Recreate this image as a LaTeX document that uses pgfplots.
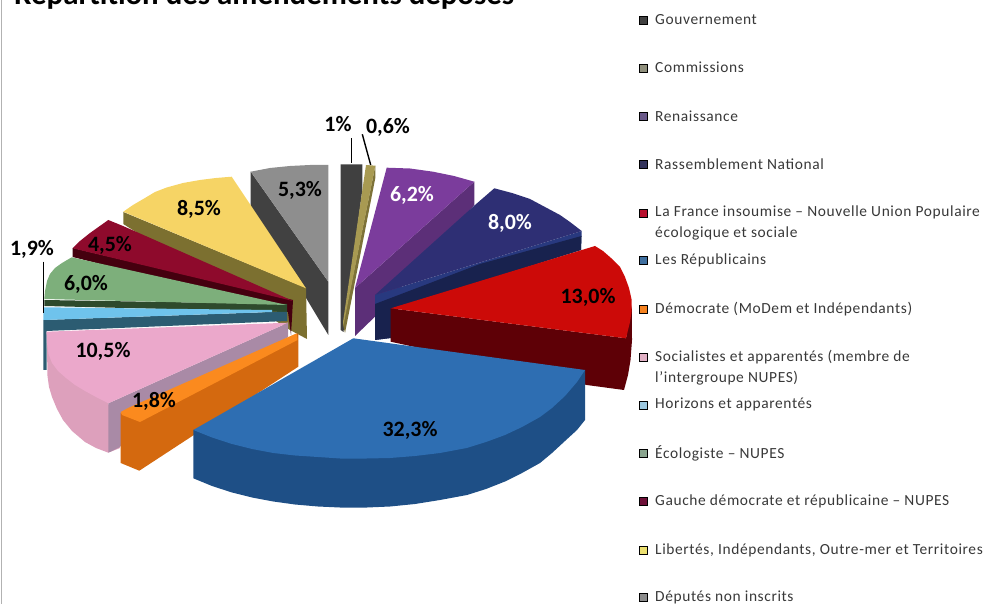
\documentclass[border=0pt]{standalone}
\usepackage{fontspec}
\setmainfont{Carlito}
\newfontfamily\legfont[LetterSpace=4]{Carlito}
\usepackage{pgfplots}
\pgfplotsset{compat=1.18}
\tikzset{lab/.style={font=\fontsize{22}{22}\selectfont\bfseries,text=black,inner sep=0pt},
 leg/.style={font=\fontsize{15.5}{15.5}\selectfont\legfont,text=black!78,anchor=west,inner sep=0pt}}
\pgfplotsset{mk/.style={only marks,mark=square*,mark size=4,mark options={draw=none,fill=#1}}}
\definecolor{cGov}{HTML}{404040}\definecolor{cGrayT}{HTML}{8E8E8E}\definecolor{cGrayS}{HTML}{414141}
\definecolor{cYelT}{HTML}{F6D465}\definecolor{cYelS}{HTML}{7C7030}
\definecolor{cWinT}{HTML}{8E0A2C}\definecolor{cWinS}{HTML}{45000F}
\definecolor{cGreT}{HTML}{7DAF7B}\definecolor{cGreS}{HTML}{2E4A2C}
\definecolor{cLbT}{HTML}{6FC3EC}\definecolor{cLbS}{HTML}{2C5C72}
\definecolor{cPinT}{HTML}{EBA8CB}\definecolor{cPinS}{HTML}{DDA0BC}\definecolor{cPinI}{HTML}{A98AA6}
\definecolor{cOrT}{HTML}{FB8A1E}\definecolor{cOrS}{HTML}{D4690F}
\definecolor{cComT}{HTML}{A89A52}\definecolor{cComS}{HTML}{7D7238}
\definecolor{cPurT}{HTML}{7B3C9C}\definecolor{cPurS}{HTML}{5C2F78}
\definecolor{cNavT}{HTML}{2E2F74}\definecolor{cNavS}{HTML}{28397F}\definecolor{cNavD}{HTML}{18224E}
\definecolor{cRedT}{HTML}{CC0A08}\definecolor{cRedS}{HTML}{5E0006}
\definecolor{cBluT}{HTML}{2E6EB2}\definecolor{cBluS}{HTML}{1E4F86}
\definecolor{m2}{HTML}{8F8F7C}\definecolor{m3}{HTML}{6B5A8A}\definecolor{m4}{HTML}{33335C}\definecolor{m5}{HTML}{B8102E}\definecolor{m6}{HTML}{3F6F9F}\definecolor{m7}{HTML}{F58220}\definecolor{m8}{HTML}{E0B0C4}\definecolor{m9}{HTML}{9CC8E0}\definecolor{m10}{HTML}{8AA58F}\definecolor{m11}{HTML}{6E1038}\definecolor{m12}{HTML}{ECE070}\definecolor{m13}{HTML}{8C8C8C}
\begin{document}
\begin{tikzpicture}[x=1bp,y=1bp]
\clip (0,0) rectangle (991,604);
\begin{axis}[at={(0,0)},anchor=south west,scale only axis,width=991bp,height=604bp,
 xmin=0,xmax=991,ymin=0,ymax=604,y dir=reverse,axis lines=none,clip=false]
% frame line
\addplot[color=black!30,line width=1.2pt] coordinates {(1.5,0)(1.5,604)};
% Deputes non inscrits
\addplot[fill=cGrayS,draw=none] coordinates {(250.7,171.7)(328.3,281.7)(328.3,335)(250.7,206)} --cycle;
\addplot[fill=cGrayT,draw=none] coordinates {(250.7,171.7)(270,168)(290,166)(310,165)(328.3,165)(328.3,281.7)} --cycle;
% Libertes
\addplot[fill=cYelS,draw=none] coordinates {(123.3,212)(306,288)(307,339)(290,330)(123.3,224)} --cycle;
\addplot[fill=cYelT,draw=none] coordinates {(123.3,211.7)(133,205)(145,198)(155,192)(166.7,187.5)(183,183)(200,180)(216,178)(231.7,176.7)(306,288.3)} --cycle;
% Gauche democrate
\addplot[fill=cWinS,draw=none] coordinates {(72.7,248)(72.7,257)(288,312)(291,335)(293,300)} --cycle;
\addplot[fill=cWinT,draw=none] coordinates {(72.7,248.3)(80,241)(90,233)(108.3,220)(123,226)(293,301)} --cycle;
% Ecologiste
\addplot[fill=cGreS,draw=none] coordinates {(44.3,300)(44.3,306)(287,312)(287,304)} --cycle;
\addplot[fill=cGreT,draw=none] coordinates {(44.3,299)(45,291)(47,281)(50,274)(55,268)(62,263)(71.7,257.3)(287,305)} --cycle;
% Horizons
\addplot[fill=cLbS,draw=none] coordinates {(43.3,320)(43.3,370)(46.5,370)(46.5,331)(287,321)(287,312)(272,312)} --cycle;
\addplot[fill=cLbT,draw=none] coordinates {(43.3,307.3)(272,310)(272,312)(43.3,320)} --cycle;
% Socialistes
\addplot[fill=cPinS,draw=none] coordinates {(46.7,332)(47.5,376)(49,387)(52,397)(57,409)(63,420)(72,431)(85,442)(96,448)(108.3,452.7)(120,448)(108.3,403.3)} --cycle;
\addplot[fill=cPinI,draw=none] coordinates {(108.3,403.3)(288,322.7)(288,337)(118,448)(108.3,452.7)} --cycle;
\addplot[fill=cPinT,draw=none] coordinates {(46.7,331.7)(288,322.7)(108.3,403.3)(96,397)(85,391)(75,385)(66,378)(58,371)(52,363)(48.5,354)(47,343)} --cycle;
% Democrate
\addplot[fill=cOrS,draw=none] coordinates {(120.7,413)(120.7,463)(139.3,470.7)(298.3,366.7)(298.3,333.3)} --cycle;
\addplot[fill=cOrT,draw=none] coordinates {(120.7,412)(128,408)(296.7,333.3)(297.5,340)(140,422)(122,415)} --cycle;
% Gouvernement
\addplot[fill=cGov,draw=none] coordinates {(340.7,164.3)(362.3,164.3)(362.3,190)(343.5,332)(340.7,330)} --cycle;
% Commissions
\addplot[fill=cComS,draw=none] coordinates {(375.3,165.7)(375.3,178)(345,333)(343,325)} --cycle;
\addplot[fill=cComT,draw=none] coordinates {(366,165)(375.3,165.7)(343.5,325)(343,322)} --cycle;
% Renaissance
\addplot[fill=cPurS,draw=none] coordinates {(474.3,181.7)(474.3,205)(375,316.7)(355,336)(355,288)} --cycle;
\addplot[fill=cPurT,draw=none] coordinates {(386.7,167.7)(410,168.5)(433,171.7)(454,176)(474.3,181.7)(355,288)} --cycle;
% Rassemblement National
\addplot[fill=cNavS,draw=none] coordinates {(375,295)(375,340)(391,338)(391,310)(581,250)(581.7,231)} --cycle;
\addplot[fill=cNavD,draw=none] coordinates {(375,304)(375,340)(391,338)(391,310)(581,250)(581.5,236)(480,264)} --cycle;
\addplot[fill=cNavT,draw=none] coordinates {(494.3,188.3)(475,205)(375,295)(581.7,231)(570,222)(560,215)(545,207)(530,199)(512,193)} --cycle;
% LFI-NUPES
\addplot[fill=cRedS,draw=none] coordinates {(390.7,308.3)(390.7,341.7)(586.7,385)(624,390)(628,375)(630.5,360)(632,340)(631.7,305)(626,338.3)} --cycle;
\addplot[fill=cRedT,draw=none] coordinates {(390.7,308.3)(595,246)(603,251)(611,258)(620,267)(625,277)(629,288)(631.7,300)(631.5,312)(630,322)(626,338.3)} --cycle;
% Les Republicains
\addplot[fill=cBluS,draw=none] coordinates {(193.3,430)(193.3,478.3)(212,486)(232,492.5)(252,497.5)(273.3,501.5)(295,504.5)(318,506.5)(340,507.5)(367,507.5)(390,506.5)(415,504)(440,500)(467,495)(486,489)(505,481.5)(522,473)(540,463)(552,453)(565,441)(577,430)(585,420)(585,370)} --cycle;
\addplot[fill=cBluT,draw=none] coordinates {(353.3,338.3)(585,370)(577,382)(565,396)(552,408)(540,417)(522,427)(505,435)(486,442)(466.7,448)(440,453)(415,456)(390,458)(366.7,458.5)(340,458.5)(318,457)(295,455.5)(273.3,453)(252,449)(232,444)(212,437.5)(193.3,430)} --cycle;
% leader lines
\addplot[black,line width=1.4pt] coordinates {(351.7,138.3)(351.7,163.3)};
\addplot[black,line width=1.4pt] coordinates {(362.3,134.3)(370.7,165)};
\addplot[black,line width=1.6pt] coordinates {(43.3,261.7)(43.3,313)};
% legend markers
\addplot[mk=cGov] coordinates {(643,20)};
\addplot[mk=m2] coordinates {(643,68)};
\addplot[mk=m3] coordinates {(643,116)};
\addplot[mk=m4] coordinates {(643,164)};
\addplot[mk=m5] coordinates {(643,213)};
\addplot[mk=m6] coordinates {(643,260)};
\addplot[mk=m7] coordinates {(643,309)};
\addplot[mk=m8] coordinates {(643,357)};
\addplot[mk=m9] coordinates {(643,405)};
\addplot[mk=m10] coordinates {(643,453)};
\addplot[mk=m11] coordinates {(643,501)};
\addplot[mk=m12] coordinates {(643,550)};
\addplot[mk=m13] coordinates {(643,597)};
% title
\node[font=\fontsize{31}{31}\selectfont\bfseries,anchor=base west,inner sep=0pt,text=black] at (axis cs:14,4.5) {Répartition des amendements déposés};
% value labels
\node[lab] at (axis cs:338,124) {1\%};
\node[lab] at (axis cs:388,127) {0,6\%};
\node[lab,text=white] at (axis cs:412,195) {6,2\%};
\node[lab,text=white] at (axis cs:510,223) {8,0\%};
\node[lab] at (axis cs:588,297) {13,0\%};
\node[lab] at (axis cs:410,430) {32,3\%};
\node[lab] at (axis cs:154,401) {1,8\%};
\node[lab] at (axis cs:103,351) {10,5\%};
\node[lab] at (axis cs:32,249) {1,9\%};
\node[lab] at (axis cs:86,284) {6,0\%};
\node[lab] at (axis cs:110,245) {4,5\%};
\node[lab] at (axis cs:199,209) {8,5\%};
\node[lab] at (axis cs:300,190) {5,3\%};
% legend text
\node[leg] at (axis cs:655,20) {Gouvernement};
\node[leg] at (axis cs:655,67) {Commissions};
\node[leg] at (axis cs:655,116) {Renaissance};
\node[leg] at (axis cs:655,164) {Rassemblement National};
\node[leg] at (axis cs:655,212) {La France insoumise – Nouvelle Union Populaire};
\node[leg] at (axis cs:655,233) {écologique et sociale};
\node[leg] at (axis cs:655,260) {Les Républicains};
\node[leg] at (axis cs:655,309) {Démocrate (MoDem et Indépendants)};
\node[leg] at (axis cs:655,357) {Socialistes et apparentés (membre de};
\node[leg] at (axis cs:655,378) {l’intergroupe NUPES)};
\node[leg] at (axis cs:655,404) {Horizons et apparentés};
\node[leg] at (axis cs:655,453) {Écologiste – NUPES};
\node[leg] at (axis cs:655,501) {Gauche démocrate et républicaine – NUPES};
\node[leg] at (axis cs:655,550) {Libertés, Indépendants, Outre-mer et Territoires};
\node[leg] at (axis cs:655,597) {Députés non inscrits};
\end{axis}
\end{tikzpicture}
\end{document}
